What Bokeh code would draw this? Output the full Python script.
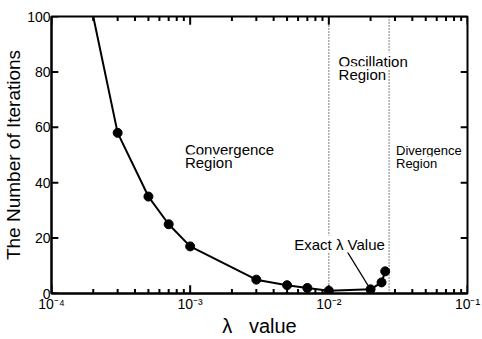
from bokeh.plotting import figure
from bokeh.models import Label, Span, FixedTicker, Range1d
from bokeh.embed import file_html
from bokeh.resources import INLINE

lam = [2e-4, 3e-4, 5e-4, 7e-4, 1e-3, 3e-3, 5e-3, 7e-3, 1e-2, 2e-2, 2.4e-2, 2.55e-2]
iters = [100, 58, 35, 25, 17, 5, 3, 2, 1, 1.5, 4, 8]
region_bounds = [1e-2, 2.72e-2]
y_ticks = [0, 20, 40, 60, 80, 100]
x_major = [1e-4, 1e-3, 1e-2, 1e-1]
x_minor = [k * d for d in [1e-4, 1e-3, 1e-2] for k in range(2, 10)]
x_tick_labels = {1e-4: "10⁻⁴", 1e-3: "10⁻³", 1e-2: "10⁻²", 1e-1: "10⁻¹"}

FONT = "Liberation Sans"

p = figure(width=482, height=339, x_axis_type="log",
           x_range=Range1d(1e-4, 1e-1), y_range=Range1d(0, 100),
           output_backend="svg", toolbar_location=None,
           min_border_left=0, min_border_right=15, min_border_top=16, min_border_bottom=0)
p.background_fill_color = "white"
p.border_fill_color = "white"
p.outline_line_color = "black"
p.outline_line_width = 2
p.xgrid.visible = False
p.ygrid.visible = False

xa = p.xaxis[0]
xa.ticker = FixedTicker(ticks=x_major)
xa.major_label_overrides = x_tick_labels
xa.axis_label = "λ\u00a0\u00a0\u00a0value"
xa.axis_label_standoff = 0
xa.major_label_standoff = 2
ya = p.yaxis[0]
ya.ticker = FixedTicker(ticks=y_ticks)
ya.axis_label = "The Number of Iterations"
ya.axis_label_standoff = 0
ya.major_label_standoff = 1

for ax in [xa, ya]:
    ax.axis_label_text_font = FONT
    ax.axis_label_text_font_size = "19px"
    ax.axis_label_text_font_style = "normal"
    ax.axis_label_text_color = "black"
    ax.major_label_text_font = FONT
    ax.major_label_text_font_size = "14px"
    ax.major_label_text_color = "black"
    ax.axis_line_width = 2
    ax.axis_line_color = "black"
    ax.major_tick_line_color = None
    ax.minor_tick_line_color = None
    ax.major_tick_out = 0
    ax.minor_tick_out = 0
xa.axis_label_text_font_size = "20px"

# inward tick marks on all four sides (data-space segments)
xt = x_major + x_minor
yl = [3.0] * len(x_major) + [1.6] * len(x_minor)
p.segment(x0=xt, y0=[0] * len(xt), x1=xt, y1=yl, line_color="black", line_width=2)
p.segment(x0=xt, y0=[100] * len(xt), x1=xt, y1=[100 - v for v in yl], line_color="black", line_width=2)
p.segment(x0=[1e-4] * len(y_ticks), y0=y_ticks, x1=[1.12e-4] * len(y_ticks), y1=y_ticks,
          line_color="black", line_width=2)
p.segment(x0=[1e-1] * len(y_ticks), y0=y_ticks, x1=[0.0893] * len(y_ticks), y1=y_ticks,
          line_color="black", line_width=2)

for b in region_bounds:
    p.add_layout(Span(location=b, dimension="height", line_color="black",
                      line_width=1, line_dash="1 2"))

p.line(lam, iters, line_color="black", line_width=2)
p.scatter(lam[1:], iters[1:], size=9, color="black")

# pointer for the exact lambda value
p.segment(x0=[0.01343], y0=[15.5], x1=[0.0194], y1=[2.5], line_color="black", line_width=1.2)

def lab(x, y, t, size="15px"):
    p.add_layout(Label(x=x, y=y, text=t, text_font=FONT, text_font_size=size,
                       text_baseline="top", text_align="left", text_color="black",
                       background_fill_color="white", level="overlay"))

lab(9.17e-4, 55.2, "Convergence")
lab(9.17e-4, 50.2, "Region")
lab(0.01175, 87.0, "Oscillation")
lab(0.01175, 82.0, "Region")
lab(0.0305, 54.5, "Divergence", "13px")
lab(0.0305, 49.5, "Region", "13px")
lab(0.00563, 20.9, "Exact λ Value")

open("out.html", "w").write(file_html(p, INLINE))
